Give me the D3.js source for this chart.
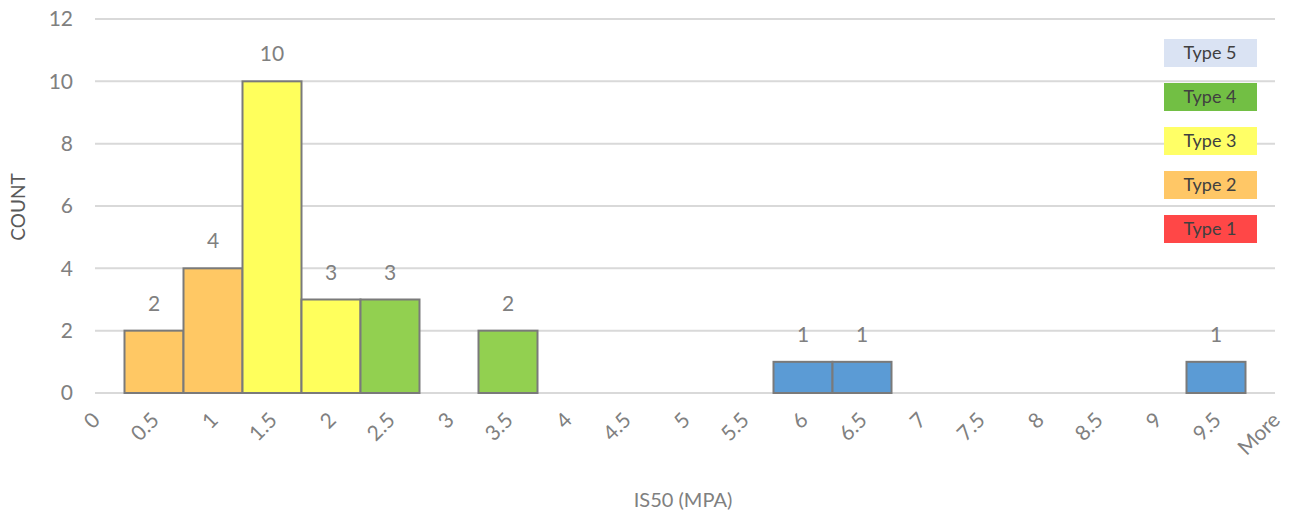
<!DOCTYPE html>
<html><head><meta charset="utf-8">
<script src="https://cdn.jsdelivr.net/npm/d3@7"></script>
<style>body{margin:0;background:#fff;} text{font-family:Lato,"Open Sans",sans-serif;}</style>
</head><body>
<svg id="c" width="1291" height="517"></svg>
<script>
const categories = ["0","0.5","1","1.5","2","2.5","3","3.5","4","4.5","5","5.5","6","6.5","7","7.5","8","8.5","9","9.5","More"];
const counts     = [0,2,4,10,3,3,0,2,0,0,0,0,1,1,0,0,0,0,0,1,0];
const barType    = [null,"Type 2","Type 2","Type 3","Type 3","Type 4",null,"Type 4",null,null,null,null,"blue","blue",null,null,null,null,null,"blue",null];
const yTicks     = [0,2,4,6,8,10,12];
const legendLabels = ["Type 5","Type 4","Type 3","Type 2","Type 1"];
const legendColors = ["#dae3f3","#72bf44","#ffff66","#ffc766","#ff4747"];
const barColors = {"Type 2":"#ffc864","Type 3":"#ffff5c","Type 4":"#92d050","blue":"#5b9bd5"};

const svg = d3.select("#c");
const x = d3.scalePoint().domain(categories).range([95,1275]);
const step = x.step();
const y = d3.scaleLinear().domain([0,12]).range([393,19]);

// gridlines
svg.append("g").selectAll("line").data(yTicks).join("line")
  .attr("x1",95).attr("x2",1275).attr("y1",d=>y(d)).attr("y2",d=>y(d))
  .attr("stroke","#d9d9d9").attr("stroke-width",2);

// y tick labels
svg.append("g").selectAll("text").data(yTicks).join("text")
  .attr("x",73).attr("y",d=>y(d)).attr("dy","0.35em").attr("text-anchor","end")
  .attr("font-size",21).attr("fill","#808080").text(d=>d);

// bars
const data = categories.map((c,i)=>({c, v:counts[i], t:barType[i]})).filter(d=>d.v>0);
svg.append("g").selectAll("rect").data(data).join("rect")
  .attr("x",d=>x(d.c)-step/2).attr("width",step)
  .attr("y",d=>y(d.v)).attr("height",d=>y(0)-y(d.v))
  .attr("fill",d=>barColors[d.t]).attr("stroke","#7a7a7a").attr("stroke-width",2);

// data labels
svg.append("g").selectAll("text").data(data).join("text")
  .attr("x",d=>x(d.c)).attr("y",d=>y(d.v)-20).attr("text-anchor","middle")
  .attr("font-size",21).attr("fill","#808080").text(d=>d.v);

// x tick labels
svg.append("g").selectAll("text").data(categories).join("text")
  .attr("transform",d=>`translate(${x(d)-4},${411}) rotate(-45)`)
  .attr("text-anchor","end").attr("dy","0.7em")
  .attr("font-size",21).attr("fill","#808080").text(d=>d);

// axis titles
svg.append("text").attr("transform","translate(25,207) rotate(-90)").attr("text-anchor","middle")
  .attr("font-size",19).attr("fill","#595959").text("COUNT");
svg.append("text").attr("x",683).attr("y",507).attr("text-anchor","middle")
  .attr("font-size",20).attr("fill","#808080").text("IS50 (MPA)");

// legend boxes
const lg = svg.append("g");
legendLabels.forEach((l,i)=>{
  const yy = 39 + i*44;
  lg.append("rect").attr("x",1164).attr("y",yy).attr("width",93).attr("height",28).attr("fill",legendColors[i]);
  lg.append("text").attr("x",1210).attr("y",yy+14).attr("dy","0.35em").attr("text-anchor","middle")
    .attr("font-size",18).attr("fill","#404040").text(l);
});
</script>
</body></html>
